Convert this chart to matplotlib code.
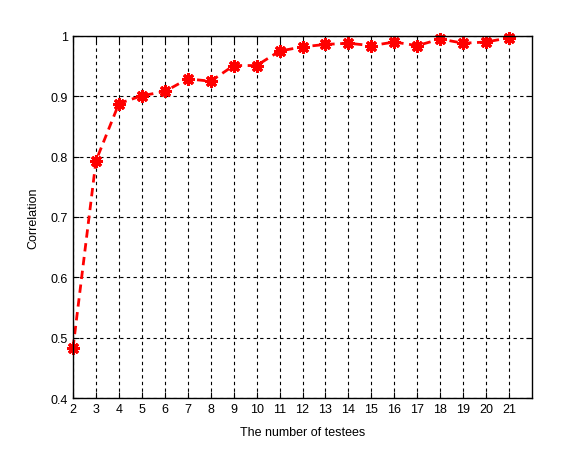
import matplotlib
matplotlib.use("Agg")
import matplotlib.pyplot as plt

plt.rcParams['font.family'] = ['Liberation Sans', 'DejaVu Sans']

testees = list(range(2, 22))
correlation = [0.483, 0.793, 0.888, 0.901, 0.908, 0.929, 0.925, 0.951, 0.951, 0.975,
               0.982, 0.986, 0.988, 0.984, 0.990, 0.984, 0.995, 0.988, 0.990, 0.997]
xticks = list(range(2, 22))
yticks = [0.4, 0.5, 0.6, 0.7, 0.8, 0.9, 1.0]
ytick_labels = ['0.4', '0.5', '0.6', '0.7', '0.8', '0.9', '1']

fig = plt.figure(figsize=(5.84, 4.6), dpi=100)
ax = fig.add_axes([0.125, 0.1326, 0.786, 0.787])
ax.plot(testees, correlation, color='red', linestyle='--', linewidth=2,
        dashes=(3, 2), clip_on=False, zorder=3)
ax.plot(testees, correlation, color='red', linestyle='none',
        marker=(8, 2, 0), markersize=9, markeredgewidth=2.2, clip_on=False, zorder=4)
ax.set_xlim(2, 22)
ax.set_ylim(0.4, 1.0)
ax.set_xticks(xticks)
ax.set_yticks(yticks)
ax.set_yticklabels(ytick_labels)
ax.grid(True, color='black', linestyle=(0, (3, 3)), linewidth=0.8)
ax.tick_params(direction='in', length=4, labelsize=9, top=True, right=True,
               labeltop=False, labelright=False)
for s in ax.spines.values():
    s.set_linewidth(1)
    s.set_zorder(5)
ax.set_xlabel('The number of testees', fontsize=9, labelpad=8)
ax.set_ylabel('Correlation', fontsize=9, labelpad=8)
fig.savefig('out.png', dpi=100)
